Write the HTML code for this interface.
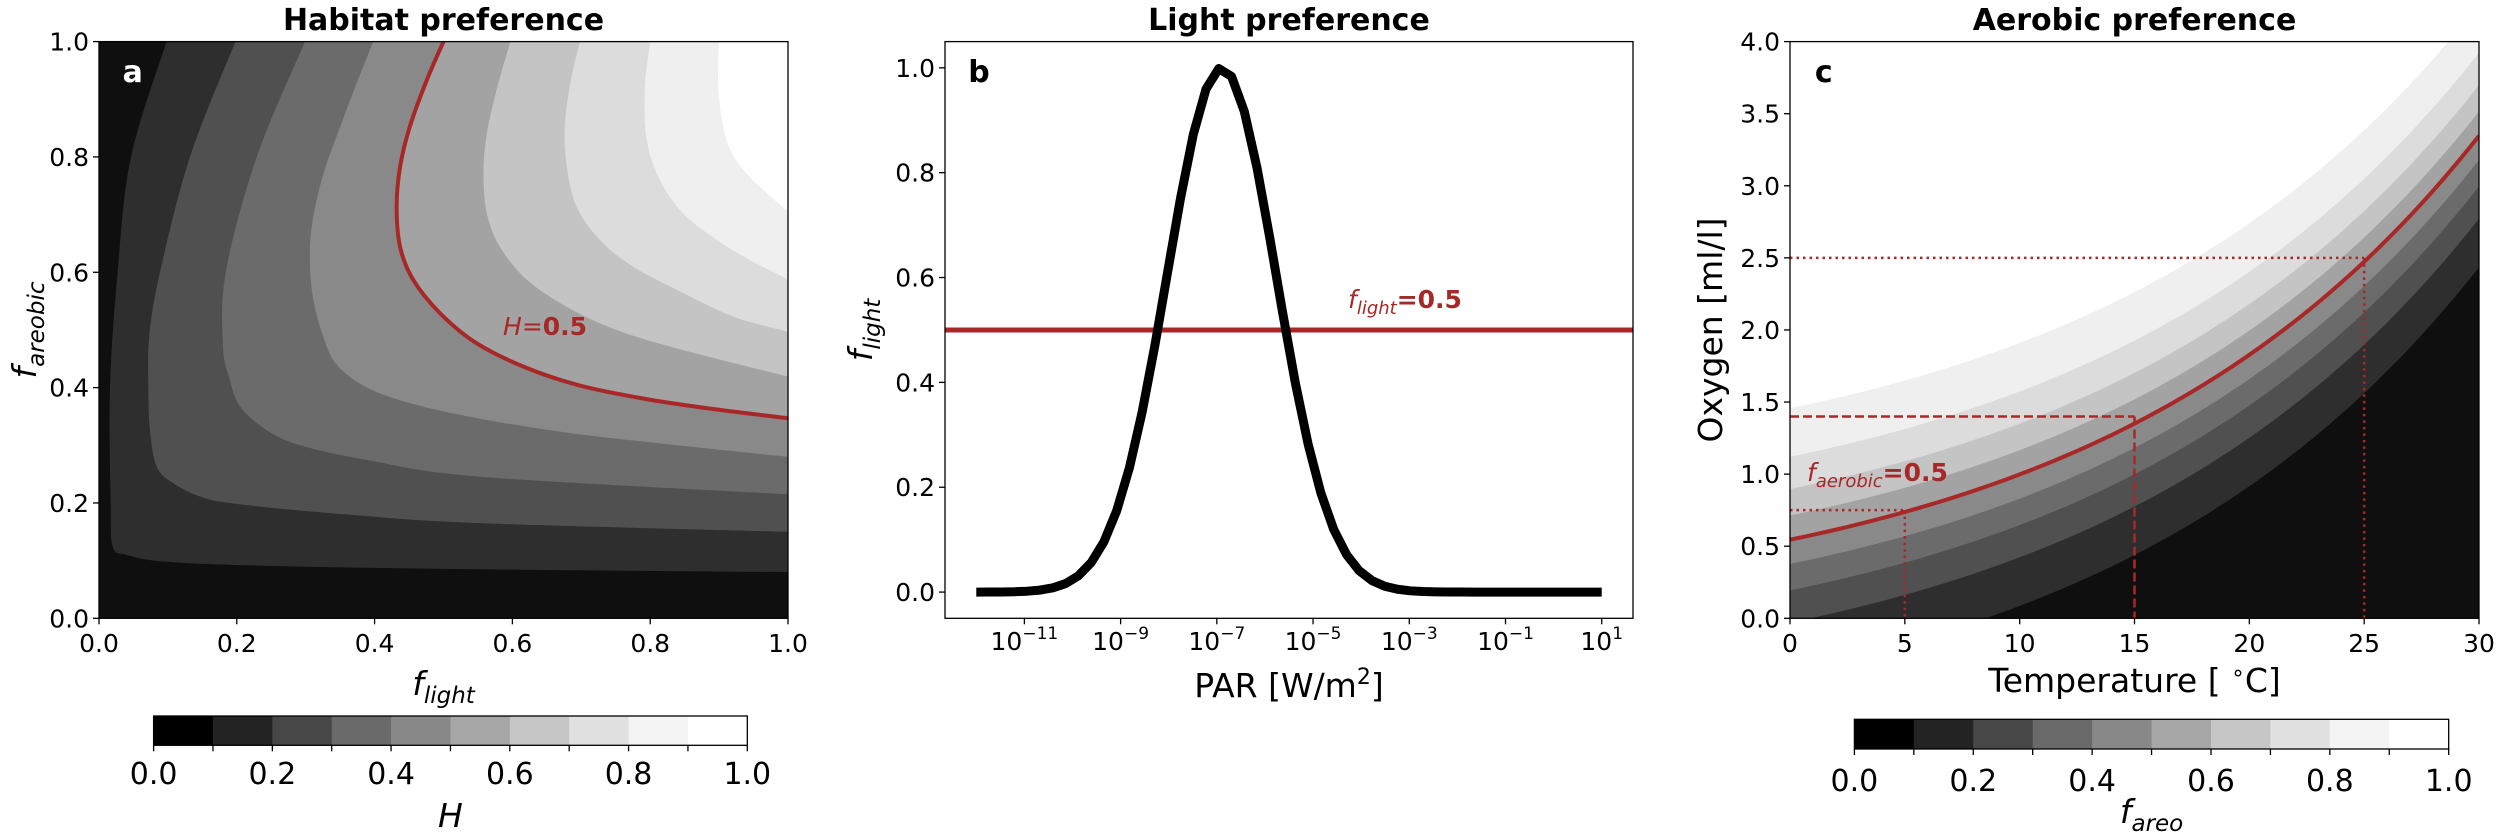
<!DOCTYPE html>
<html><head><meta charset="utf-8">
<style>
html,body{margin:0;padding:0;background:#fff;}
svg{display:block;font-family:"DejaVu Sans","Liberation Sans",sans-serif;}
</style></head>
<body>
<svg id="s" width="2500" height="839" viewBox="0 0 2500 839" xmlns="http://www.w3.org/2000/svg">
<defs>
<clipPath id="ca"><rect x="99" y="41.6" width="689" height="576.7"/></clipPath>
<clipPath id="cb"><rect x="945" y="41.6" width="688" height="576.7"/></clipPath>
<clipPath id="cc"><rect x="1790" y="41.6" width="689" height="576.7"/></clipPath>
</defs>
<g id="g"></g>
</svg>
<script>
var NS="http://www.w3.org/2000/svg";
var G=document.getElementById("g");
function el(t,a,p){var e=document.createElementNS(NS,t);for(var k in a)e.setAttribute(k,a[k]);(p||G).appendChild(e);return e;}
function txt(x,y,s,a){a=a||{};a.x=x;a.y=y;var e=el("text",a);e.innerHTML=s;return e;}
var RED="#a82828";
var bandCols=["#0f0f0f","#2e2e2e","#505050","#6b6b6b","#898989","#a3a3a3","#c4c4c4","#dcdcdc","#efefef","#ffffff"];
var cbCols=["#000000","#232323","#474747","#6a6a6a","#888888","#a6a6a6","#c6c6c6","#e1e1e1","#f4f4f4","#ffffff"];
function cr(pts){
  var d="M"+pts[0][0].toFixed(2)+","+pts[0][1].toFixed(2);
  for(var i=0;i<pts.length-1;i++){
    var p0=pts[i-1]||pts[i],p1=pts[i],p2=pts[i+1],p3=pts[i+2]||pts[i+1];
    var c1=[p1[0]+(p2[0]-p0[0])/6,p1[1]+(p2[1]-p0[1])/6];
    var c2=[p2[0]-(p3[0]-p1[0])/6,p2[1]-(p3[1]-p1[1])/6];
    d+=" C"+c1[0].toFixed(2)+","+c1[1].toFixed(2)+" "+c2[0].toFixed(2)+","+c2[1].toFixed(2)+" "+p2[0].toFixed(2)+","+p2[1].toFixed(2);
  }
  return d;
}
var AX=99,AW=689,AT=41.6,AH=576.7,AB=AT+AH;
function ax(v){return AX+v*AW;} function ay(v){return AB-v*AH;}
var curves=[
[[0.098,1],[0.0464,0.8],[0.027,0.6],[0.016,0.4],[0.017,0.2],[0.02,0.124],[0.04,0.11],[0.098,0.098],[0.243,0.091],[0.553,0.085],[1,0.08]],
[[0.198,1],[0.132,0.8],[0.0885,0.6],[0.073,0.49],[0.0716,0.4],[0.074,0.326],[0.0837,0.263],[0.108,0.234],[0.147,0.211],[0.195,0.199],[0.34,0.182],[0.553,0.165],[1,0.15]],
[[0.299,1],[0.229,0.8],[0.184,0.6],[0.18,0.471],[0.19,0.413],[0.205,0.367],[0.243,0.3265],[0.292,0.30],[0.389,0.2745],[0.553,0.2455],[1,0.215]],
[[0.398,1],[0.374,0.928],[0.35,0.852],[0.326,0.772],[0.311,0.696],[0.306,0.633],[0.31,0.56],[0.325,0.49],[0.345,0.44],[0.389,0.40],[0.461,0.37],[0.558,0.345],[0.679,0.322],[0.824,0.302],[1,0.28]],
[[0.5,1],[0.476,0.934],[0.451,0.852],[0.437,0.783],[0.432,0.714],[0.437,0.644],[0.456,0.587],[0.495,0.529],[0.548,0.477],[0.621,0.434],[0.703,0.402],[0.80,0.379],[0.897,0.362],[1,0.347]],
[[0.597,1],[0.577,0.916],[0.563,0.841],[0.558,0.772],[0.563,0.702],[0.582,0.644],[0.621,0.587],[0.679,0.540],[0.751,0.5],[0.848,0.465],[1,0.419]],
[[0.698,1],[0.684,0.928],[0.676,0.852],[0.679,0.783],[0.693,0.714],[0.727,0.656],[0.775,0.61],[0.848,0.564],[0.921,0.523],[1,0.497]],
[[0.8,1],[0.792,0.916],[0.795,0.829],[0.814,0.76],[0.848,0.702],[0.897,0.656],[0.945,0.621],[1,0.588]],
[[0.9,1],[0.899,0.916],[0.911,0.829],[0.94,0.771],[1,0.705]]
];
var ga=el("g",{"clip-path":"url(#ca)"});
el("rect",{x:AX,y:AT,width:AW,height:AH,fill:bandCols[0]},ga);
var redPathA="";
curves.forEach(function(c,i){
  var p=c.map(function(q){return [ax(q[0]),ay(q[1])];});
  var d=cr(p);
  el("path",{d:d+" L"+ax(1.02)+","+ay(c[c.length-1][1])+" L"+ax(1.02)+","+ay(1.02)+" L"+p[0][0]+","+ay(1.02)+" Z",fill:bandCols[i+1]},ga);
  if(i==4)redPathA=d;
});
el("path",{d:redPathA,fill:"none",stroke:RED,"stroke-width":4},ga);
txt(132.7,82,"a",{fill:"#fff","font-size":30,"font-weight":"bold","text-anchor":"middle"});
txt(503,335,'<tspan font-style="italic">H</tspan>=<tspan font-weight="bold">0.5</tspan>',{fill:RED,"font-size":25});
var BX=945,BW=688;
function bx(l){return BX+(l+12.65)/14.3*BW;} function by(v){return AB-(v+0.05)/1.1*AH;}
var gb=el("g",{"clip-path":"url(#cb)"});
el("line",{x1:BX,x2:BX+BW,y1:by(0.5),y2:by(0.5),stroke:RED,"stroke-width":5},gb);
var pts=[];for(var i=0;i<50;i++){var l=-12+13*i/49;var f=Math.exp(-Math.pow(l+6.9,2)/(2*1.13*1.13));pts.push(bx(l).toFixed(2)+","+by(f).toFixed(2));}
el("polyline",{points:pts.join(" "),fill:"none",stroke:"#000","stroke-width":9,"stroke-linejoin":"round"},gb);
txt(979,82,"b",{fill:"#000","font-size":30,"font-weight":"bold","text-anchor":"middle"});
txt(1348,308,'<tspan font-style="italic">f</tspan><tspan font-style="italic" font-size="18" dy="6">light</tspan><tspan dy="-6" font-weight="bold">=0.5</tspan>',{fill:RED,"font-size":25});
var CX=1790,CW=689;
function cx(T){return CX+T/30*CW;} function cy(O){return AB-O/4*AH;}
function O50(T){return 0.545*Math.exp(0.0605*T);}
var gc=el("g",{"clip-path":"url(#cc)"});
el("rect",{x:CX,y:AT,width:CW,height:AH,fill:bandCols[0]},gc);
var s=0.415;
for(var k=1;k<=9;k++){
  var L=k/10,off=s*Math.log(L/(1-L));var d="";
  for(var j=0;j<=60;j++){var T=-0.5+31*j/60;d+=(j?" L":"M")+cx(T).toFixed(2)+","+cy(O50(T)+off).toFixed(2);}
  d+=" L"+cx(30.5)+","+cy(4.3)+" L"+cx(-0.5)+","+cy(4.3)+" Z";
  el("path",{d:d,fill:bandCols[k]},gc);
}
var dr="";for(var j=0;j<=60;j++){var T=30*j/60;dr+=(j?" L":"M")+cx(T).toFixed(2)+","+cy(O50(T)).toFixed(2);}
el("path",{d:dr,fill:"none",stroke:RED,"stroke-width":4},gc);
function hv(T,O,dash){
  el("line",{x1:cx(0),x2:cx(T),y1:cy(O),y2:cy(O),stroke:RED,"stroke-width":2.5,"stroke-dasharray":dash},gc);
  el("line",{x1:cx(T),x2:cx(T),y1:cy(O),y2:cy(0),stroke:RED,"stroke-width":2.5,"stroke-dasharray":dash},gc);
}
hv(5,0.75,"2.5,4");hv(15,1.4,"9,4");hv(25,2.5,"2.5,4");
txt(1823.8,82,"c",{fill:"#000","font-size":30,"font-weight":"bold","text-anchor":"middle"});
txt(1807,481,'<tspan font-style="italic">f</tspan><tspan font-style="italic" font-size="18" dy="6">aerobic</tspan><tspan dy="-6" font-weight="bold">=0.5</tspan>',{fill:RED,"font-size":25});
function frame(x,w){el("rect",{x:x,y:AT,width:w,height:AH,fill:"none",stroke:"#000","stroke-width":1.3});}
frame(AX,AW);frame(BX,BW);frame(CX,CW);
function xt(x,lab,fs){el("line",{x1:x,x2:x,y1:AB,y2:AB+6,stroke:"#000","stroke-width":1.3});txt(x,652,lab,{"font-size":fs||25,"text-anchor":"middle"});}
function yt(x0,y,lab){el("line",{x1:x0,x2:x0-6,y1:y,y2:y,stroke:"#000","stroke-width":1.3});txt(x0-10,y+9,lab,{"font-size":25,"text-anchor":"end"});}
for(var i=0;i<=5;i++){var v=i*0.2;xt(ax(v),v.toFixed(1));yt(AX,ay(v),v.toFixed(1));yt(BX,by(v),v.toFixed(1));}
[-11,-9,-7,-5,-3,-1,1].forEach(function(e){var x=bx(e);el("line",{x1:x,x2:x,y1:AB,y2:AB+6,stroke:"#000","stroke-width":1.3});
 txt(x,650,'10<tspan font-size="17" dy="-11">'+(e<0?"\u2212"+(-e):e)+'</tspan>',{"font-size":25,"text-anchor":"middle"});});
for(var T=0;T<=30;T+=5)xt(cx(T),""+T);
for(var i=0;i<=8;i++){var O=i*0.5;yt(CX,cy(O),O.toFixed(1));}
txt(443.5,30,"Habitat preference",{"font-size":30,"font-weight":"bold","text-anchor":"middle"});
txt(1289,30,"Light preference",{"font-size":30,"font-weight":"bold","text-anchor":"middle"});
txt(2134.5,30,"Aerobic preference",{"font-size":30,"font-weight":"bold","text-anchor":"middle"});
txt(443.5,695,'<tspan font-style="italic">f</tspan><tspan font-style="italic" font-size="23" dy="8">light</tspan>',{"font-size":33,"text-anchor":"middle"});
txt(1289,697,'PAR [W/m<tspan font-size="22" dy="-13">2</tspan><tspan dy="13">]</tspan>',{"font-size":33,"text-anchor":"middle"});
txt(2134.5,692,'Temperature [ <tspan font-size="22" dy="-12">\u2218</tspan><tspan dy="12">C]</tspan>',{"font-size":33,"text-anchor":"middle"});
var g1=el("g",{transform:"translate(36,330) rotate(-90)"});
var t1=el("text",{x:0,y:0,"font-size":33,"text-anchor":"middle"},g1);t1.innerHTML='<tspan font-style="italic">f</tspan><tspan font-style="italic" font-size="23" dy="8">areobic</tspan>';
var g2=el("g",{transform:"translate(872,330) rotate(-90)"});
var t2=el("text",{x:0,y:0,"font-size":33,"text-anchor":"middle"},g2);t2.innerHTML='<tspan font-style="italic">f</tspan><tspan font-style="italic" font-size="23" dy="8">light</tspan>';
var g3=el("g",{transform:"translate(1722,330) rotate(-90)"});
var t3=el("text",{x:0,y:0,"font-size":33,"text-anchor":"middle"},g3);t3.textContent='Oxygen [ml/l]';
function cbar(x0,x1,y0,y1,base,lab,ly){
  var w=(x1-x0)/10;
  for(var i=0;i<10;i++)el("rect",{x:x0+i*w,y:y0,width:w+0.5,height:y1-y0,fill:cbCols[i]});
  el("rect",{x:x0,y:y0,width:x1-x0,height:y1-y0,fill:"none",stroke:"#000","stroke-width":1.3});
  for(var i=0;i<=10;i++){var x=x0+i*w;el("line",{x1:x,x2:x,y1:y1,y2:y1+6,stroke:"#000","stroke-width":1.3});
    if(i%2==0)txt(x,base,(i/10).toFixed(1),{"font-size":30,"text-anchor":"middle"});}
  txt((x0+x1)/2,ly,lab,{"font-size":33,"text-anchor":"middle"});
}
cbar(153.6,747.3,716,745.3,784,'<tspan font-style="italic">H</tspan>',827);
cbar(1854.4,2448.7,719.3,749,791,'<tspan font-style="italic">f</tspan><tspan font-style="italic" font-size="23" dy="8">areo</tspan>',823);
</script>
</body></html>
